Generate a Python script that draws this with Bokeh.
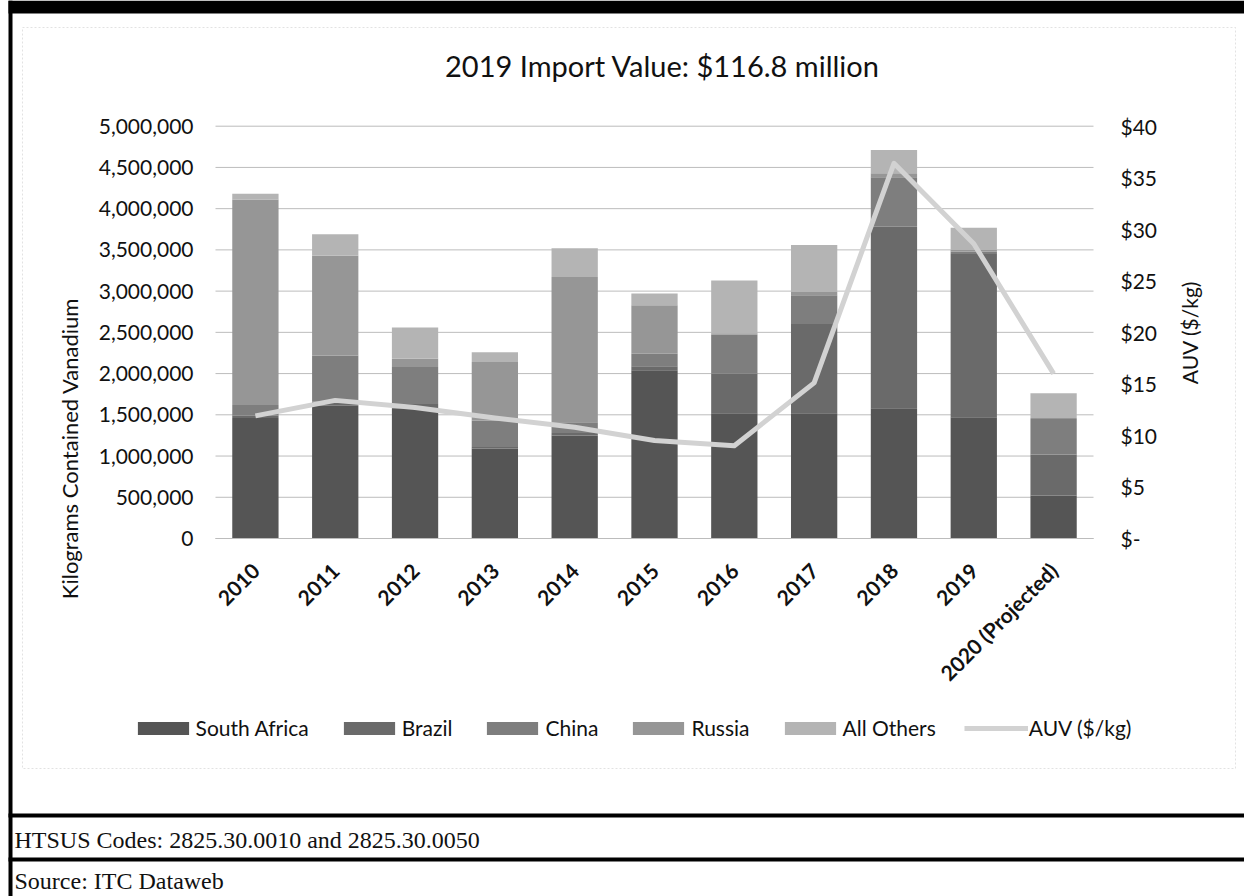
from math import pi
from bokeh.plotting import figure
from bokeh.models import (Range1d, LinearAxis, NumeralTickFormatter,
                          PrintfTickFormatter, FixedTicker, Legend, LegendItem,
                          Label, BoxAnnotation, ColumnDataSource)
from bokeh.embed import file_html
from bokeh.resources import INLINE

# ---------------- data ----------------
years = ["2010", "2011", "2012", "2013", "2014", "2015", "2016", "2017",
         "2018", "2019", "2020 (Projected)"]
south_africa = [1460000, 1610000, 1580000, 1090000, 1250000, 2040000, 1520000,
                1520000, 1580000, 1470000, 520000]
brazil = [30000, 50000, 50000, 20000, 30000, 50000, 480000, 1080000, 2200000,
          1980000, 500000]
china = [130000, 560000, 450000, 320000, 130000, 150000, 470000, 350000, 600000,
         30000, 430000]
russia = [2490000, 1210000, 100000, 710000, 1760000, 590000, 20000, 40000, 50000,
          20000, 10000]
all_others = [70000, 260000, 380000, 120000, 350000, 140000, 640000, 570000,
              280000, 270000, 300000]
auv = [11.9, 13.4, 12.7, 11.7, 10.8, 9.5, 9.0, 15.1, 36.4, 28.6, 16.0]

series_names = ["South Africa", "Brazil", "China", "Russia", "All Others"]
series_keys = ["south_africa", "brazil", "china", "russia", "all_others"]
series_colors = ["#555555", "#6a6a6a", "#7e7e7e", "#969696", "#b4b4b4"]
auv_color = "#d2d2d2"

left_ticks = list(range(0, 5000001, 500000))
right_ticks = [0, 5, 10, 15, 20, 25, 30, 35, 40]
left_max = 5000000
right_max = 40

title_text = "2019 Import Value: $116.8 million"
y_title = "Kilograms Contained Vanadium"
y2_title = "AUV ($/kg)"
note1 = "HTSUS Codes: 2825.30.0010 and 2825.30.0050"
note2 = "Source: ITC Dataweb"

# ---------------- geometry (page pixels) ----------------
W, H = 1244, 896
PL, PR, PT, PB = 215.0, 1093.0, 125.7, 538.0     # chart plot area
n = len(years)
unit = (PR - PL) / n
ppx = (PB - PT) / left_max

x_start = -0.5 - PL / unit
x_end = n - 0.5 + (W - PR) / unit
y_start = -(H - PB) / ppx
y_end = left_max + PT / ppx
a_scale = right_max / (PB - PT)
a_start = -(H - PB) * a_scale
a_end = right_max + PT * a_scale


def xd(px):
    return -0.5 + (px - PL) / unit


def yd(py):
    return (PB - py) / ppx


xpos = list(range(n))
src = ColumnDataSource(dict(x=xpos, south_africa=south_africa, brazil=brazil,
                            china=china, russia=russia, all_others=all_others,
                            auv=auv))

FONT = "Lato"
TXT = "#111111"

p = figure(width=W, height=H, x_range=Range1d(x_start, x_end),
           y_range=Range1d(y_start, y_end), min_border=0,
           output_backend="svg", toolbar_location=None,
           background_fill_color="white", border_fill_color="white")
p.outline_line_color = None
p.extra_y_ranges = {"auv": Range1d(a_start, a_end)}
p.xgrid.visible = False
p.ygrid.visible = False

# gridlines (one per left tick, across the plot area)
grid_src = ColumnDataSource(dict(y=left_ticks))
p.segment(x0=-0.5, x1=n - 0.5, y0="y", y1="y", source=grid_src,
          line_color="#bcbcbc", line_width=1)

bars = p.vbar_stack(series_keys, x="x", width=0.58, color=series_colors,
                    line_color=None, source=src)
line = p.line("x", "auv", source=src, y_range_name="auv",
              line_color=auv_color, line_width=5, line_join="round")

# left axis
ya = p.yaxis[0]
ya.fixed_location = -0.5
ya.ticker = FixedTicker(ticks=left_ticks)
ya.formatter = NumeralTickFormatter(format="0,0")
ya.axis_line_color = None
ya.major_tick_line_color = None
ya.minor_tick_line_color = None
ya.major_tick_out = 0
ya.major_tick_in = 0
ya.major_label_standoff = 22
ya.major_label_text_font = FONT
ya.major_label_text_font_size = "21px"
ya.major_label_text_color = TXT
ya.axis_label = y_title
ya.axis_label_text_font = FONT
ya.axis_label_text_font_size = "22px"
ya.axis_label_text_font_style = "normal"
ya.axis_label_text_color = TXT
ya.axis_label_standoff = 13

# right axis
ra = LinearAxis(y_range_name="auv", ticker=FixedTicker(ticks=right_ticks),
                formatter=PrintfTickFormatter(format="$%d"))
ra.fixed_location = n - 0.5
ra.major_label_overrides = {0: "$-"}
ra.axis_line_color = None
ra.major_tick_line_color = None
ra.minor_tick_line_color = None
ra.major_tick_out = 0
ra.major_tick_in = 0
ra.major_label_standoff = 27
ra.major_label_text_font = FONT
ra.major_label_text_font_size = "21px"
ra.major_label_text_color = TXT
p.add_layout(ra, "right")

# bottom axis
xa = p.xaxis[0]
xa.fixed_location = 0
xa.bounds = (-0.5, n - 0.5)
xa.ticker = FixedTicker(ticks=xpos)
xa.major_label_overrides = {i: y for i, y in zip(xpos, years)}
xa.axis_line_color = "#bcbcbc"
xa.major_tick_line_color = None
xa.minor_tick_line_color = None
xa.major_tick_out = 0
xa.major_tick_in = 0
xa.major_label_orientation = pi / 4
xa.major_label_standoff = 28
xa.major_label_text_font = FONT
xa.major_label_text_font_size = "21px"
xa.major_label_text_font_style = "bold"
xa.major_label_text_color = TXT

# legend
items = [LegendItem(label=nm, renderers=[r]) for nm, r in zip(series_names, bars)]
items.append(LegendItem(label=y2_title, renderers=[line]))
legend = Legend(items=items, orientation="horizontal", location=(130.6, H - 740),
                glyph_width=64, glyph_height=16, label_standoff=1, spacing=28,
                padding=0, margin=0, border_line_color=None,
                background_fill_alpha=0, label_text_font=FONT,
                label_text_font_size="21px", label_text_color=TXT)
p.add_layout(legend)

# title and right axis title
p.add_layout(Label(x=xd(662), y=yd(65), text=title_text, text_align="center",
                   text_baseline="middle", text_font=FONT,
                   text_font_size="29px", text_color=TXT))
p.add_layout(Label(x=xd(1189), y=yd(332), text=y2_title, angle=pi / 2,
                   text_align="center", text_baseline="middle", text_font=FONT,
                   text_font_size="21px", text_color=TXT))


# page decorations
def box(l, r, t, b, **kw):
    return BoxAnnotation(left=xd(l), right=xd(r), top=yd(t), bottom=yd(b), **kw)


p.add_layout(box(22, 1235, 27, 768, fill_alpha=0, line_color="#a0a0a0",
                 line_dash="2 2", line_width=1))
p.add_layout(box(8, W, 0, 13, fill_color="black", fill_alpha=1, line_color=None))
p.add_layout(box(8, 12, 0, H, fill_color="black", fill_alpha=1, line_color=None))
p.add_layout(box(8, W, 813, 817, fill_color="black", fill_alpha=1, line_color=None))
p.add_layout(box(8, W, 857, 861, fill_color="black", fill_alpha=1, line_color=None))

p.add_layout(Label(x=xd(14), y=yd(839), text=note1, text_align="left",
                   text_baseline="alphabetic", text_font="Liberation Serif",
                   text_font_size="24px", text_color=TXT))
p.add_layout(Label(x=xd(14), y=yd(880), text=note2, text_align="left",
                   text_baseline="alphabetic", text_font="Liberation Serif",
                   text_font_size="24px", text_color=TXT))

open("out.html", "w").write(file_html(p, INLINE))
